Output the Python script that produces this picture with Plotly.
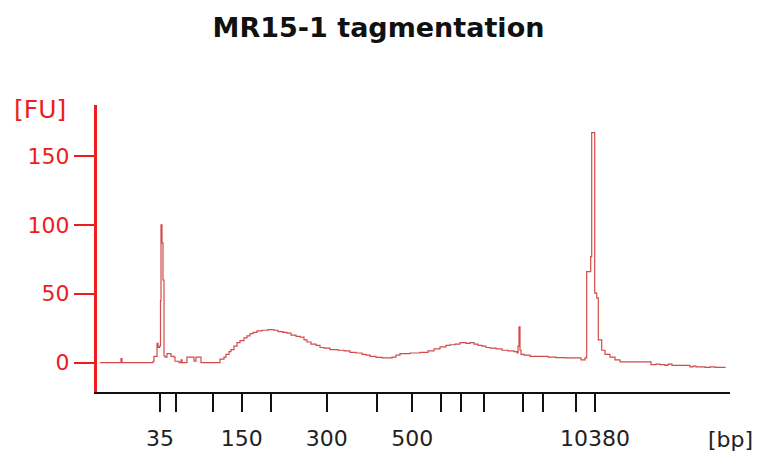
import plotly.graph_objects as go

# Migration position (arbitrary time units) and fluorescence (FU)
time_s = [
    10.0, 12.0, 12.1, 12.2, 15.0, 15.3, 15.4, 15.6, 15.7, 15.8, 15.95, 16.05, 16.1, 16.2, 16.3, 16.4,
    16.5, 16.7, 17.0, 17.1, 17.4, 17.5, 17.8, 17.9, 18.1, 18.2, 18.6, 18.7, 19.3, 19.4, 19.6, 20.0,
    20.1, 21.9, 22.0, 22.3, 22.4, 22.6, 22.9, 23.1, 23.4, 23.7, 24.0, 24.4, 24.7, 25.0, 25.3, 25.7,
    26.2, 26.8, 27.4, 27.8, 28.3, 28.7, 29.1, 29.6, 30.0, 30.4, 30.7, 31.1, 31.6, 32.0, 32.4, 33.0,
    33.8, 34.4, 35.0, 35.6, 36.2, 36.6, 37.0, 37.6, 38.2, 38.8, 39.2, 39.6, 40.0, 41.0, 42.0, 42.8,
    43.4, 44.0, 44.6, 45.0, 45.5, 46.0, 46.6, 47.0, 47.4, 47.8, 48.2, 48.6, 49.0, 49.6, 50.2, 50.8,
    51.4, 51.7, 51.8, 51.9, 52.0, 52.1, 52.4, 53.0, 54.0, 54.8, 55.6, 56.6, 58.1, 58.5, 58.67, 59.07,
    59.17, 59.47, 59.67, 59.83, 60.17, 60.5, 61.0, 61.5, 62.0, 65.0, 65.1, 65.6, 66.0, 66.5, 66.8, 67.2,
    68.5, 69.0, 69.3, 69.6, 70.0, 70.5, 71.0, 71.5, 72.5,
]
fu = [
    0, 0, 3, 0, 0, 1, 4.5, 4.5, 14, 11, 12, 45, 100, 87, 60, 5,
    4, 6.5, 6.5, 4.5, 4, 1, 1, 0, 2, 0, 0, 4, 4, 1, 4, 4,
    0, 0, 2.5, 2.5, 4, 6, 8, 9.5, 12, 14.5, 16, 18, 19.5, 21, 22, 23,
    23.5, 24, 23.5, 22.5, 22, 21.5, 20, 19, 18.5, 16.5, 15, 13.5, 12.5, 11, 10.5, 9.5,
    9, 8.5, 7.5, 7, 6, 5.5, 4.5, 3.8, 3.5, 3.5, 4, 5.5, 6.5, 7, 7.5, 8.5,
    10, 11.5, 12.5, 13, 13.5, 14.5, 14, 14.5, 13.5, 12.5, 12, 11, 10.5, 10, 9, 8.5,
    8, 7, 12, 26, 9, 6, 5.5, 4.5, 4.5, 4, 3.6, 3.4, 2, 3.4, 66, 77,
    167, 50.5, 47, 16.5, 9, 6, 4, 2, 0.5, 0.5, -1.5, -1, -1.5, -2, -1, -2,
    -2, -3, -2.5, -3, -3, -3.5, -3, -3.5, -3,
]

# Ladder marker positions and their size labels
ladder_pos = [16.0, 17.6, 21.27, 24.17, 27.07, 32.67, 37.73, 41.23, 44.1, 46.07,
              48.4, 52.33, 54.27, 57.6, 59.5]
ladder_bp = ["35", "", "", "150", "", "300", "", "500", "", "", "", "", "", "", "10380"]

fu_ticks = [0, 50, 100, 150]

RED = "#ee1c1c"
FONT = "DejaVu Sans"

fig = go.Figure()
fig.add_trace(go.Scatter(
    x=time_s, y=fu, mode="lines", line=dict(color="#d24a4a", width=1.2, shape="hv"),
    showlegend=False, hoverinfo="skip",
))

fig.update_layout(
    width=757, height=452,
    margin=dict(l=97, r=27, t=105, b=60),
    paper_bgcolor="white", plot_bgcolor="white",
    title=dict(text="<b>MR15-1 tagmentation</b>", x=0.5, xanchor="center", y=0.94, yanchor="middle",
               font=dict(family=FONT, size=27, color="#111111")),
    xaxis=dict(range=[9.7, 73.0], showgrid=False, zeroline=False, automargin=False,
               showline=True, linecolor="#111111", linewidth=2,
               ticks="outside", ticklen=18, tickwidth=2, tickcolor="#111111",
               tickvals=ladder_pos, ticktext=ladder_bp, ticklabelstandoff=8,
               tickfont=dict(family=FONT, size=22, color="#222222")),
    yaxis=dict(range=[-21.3, 187], showgrid=False, zeroline=False, automargin=False,
               showline=True, linecolor=RED, linewidth=3,
               ticks="outside", ticklen=20, tickwidth=2, tickcolor=RED,
               tickvals=fu_ticks, ticktext=[str(v) for v in fu_ticks],
               tickfont=dict(family=FONT, size=22, color=RED)),
    annotations=[
        dict(text="[FU]", xref="paper", yref="paper", x=-0.09, y=0.983, xanchor="center",
             yanchor="middle", showarrow=False, font=dict(family=FONT, size=25, color=RED)),
        dict(text="[bp]", xref="paper", yref="paper", x=1.0, y=-0.167, xanchor="center",
             yanchor="middle", showarrow=False, font=dict(family=FONT, size=22, color="#222222")),
    ],
)

fig.write_html("out.html")
